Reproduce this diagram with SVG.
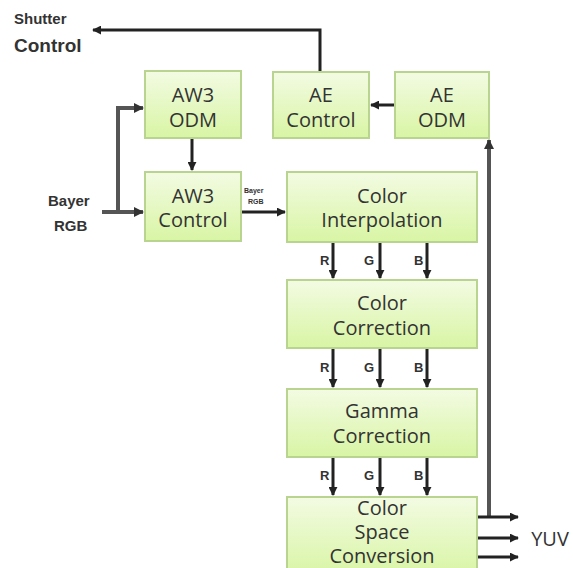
<svg xmlns="http://www.w3.org/2000/svg" width="573" height="568" viewBox="0 0 573 568">
<style>
.box{fill:url(#g);stroke:#b9d48e;stroke-width:2}
.t{font-family:"Open Sans","Liberation Sans",sans-serif;font-size:20px;fill:#333;text-anchor:middle}
.b{font-family:"Liberation Sans",sans-serif;font-weight:bold;fill:#333}
.c{fill:none;stroke:#222;stroke-width:3}
.gr{fill:none;stroke:#555;stroke-width:4}
</style>
<defs>
<linearGradient id="g" x1="0" y1="0" x2="0" y2="1"><stop offset="0" stop-color="#f3fbe3"/><stop offset="1" stop-color="#d8f5a4"/></linearGradient>
<marker id="a" viewBox="0 0 10 10" refX="9" refY="5" markerWidth="3" markerHeight="3" orient="auto"><path d="M0,0L10,5L0,10z" fill="#222"/></marker>
<marker id="a2" viewBox="0 0 10 10" refX="9" refY="5" markerWidth="2.5" markerHeight="2.5" orient="auto"><path d="M0,0L10,5L0,10z" fill="#333"/></marker>
</defs>
<g id="connectors">
<path class="c" d="M320,72V30H93" marker-end="url(#a)"/>
<path class="gr" d="M102,212H143" marker-end="url(#a2)"/>
<path class="gr" d="M118,212V108H143" marker-end="url(#a2)"/>
<path class="c" d="M192,139V170" marker-end="url(#a)"/>
<path class="c" d="M242,212H285" marker-end="url(#a)"/>
<path class="c" d="M394,105H371" marker-end="url(#a)"/>
<path class="gr" d="M489,517V140" marker-end="url(#a2)"/>
<path class="c" d="M333,243V278" marker-end="url(#a)"/>
<path class="c" d="M380,243V278" stroke="#555" marker-end="url(#a)"/>
<path class="c" d="M427,243V278" marker-end="url(#a)"/>
<path class="c" d="M333,349V387" marker-end="url(#a)"/>
<path class="c" d="M380,349V387" stroke="#555" marker-end="url(#a)"/>
<path class="c" d="M427,349V387" marker-end="url(#a)"/>
<path class="c" d="M333,458V495" marker-end="url(#a)"/>
<path class="c" d="M380,458V495" stroke="#555" marker-end="url(#a)"/>
<path class="c" d="M427,458V495" marker-end="url(#a)"/>
<path class="c" d="M478,517H518" marker-end="url(#a)"/>
<path class="c" d="M478,538H518" marker-end="url(#a)"/>
<path class="c" d="M478,557H518" marker-end="url(#a)"/>
</g>
<g id="labels">
<text class="b" x="14" y="24" font-size="15">Shutter</text>
<text class="b" x="14" y="52" font-size="19">Control</text>
<text class="b" x="48" y="206" font-size="15">Bayer</text>
<text class="b" x="54" y="231" font-size="15">RGB</text>
<text class="b" x="244" y="193" font-size="7">Bayer</text>
<text class="b" x="248" y="204" font-size="7">RGB</text>
<text class="b" x="320" y="265" font-size="13">R</text>
<text class="b" x="364" y="265" font-size="13">G</text>
<text class="b" x="414" y="265" font-size="13">B</text>
<text class="b" x="320" y="372" font-size="13">R</text>
<text class="b" x="364" y="372" font-size="13">G</text>
<text class="b" x="414" y="372" font-size="13">B</text>
<text class="b" x="320" y="480" font-size="13">R</text>
<text class="b" x="364" y="480" font-size="13">G</text>
<text class="b" x="414" y="480" font-size="13">B</text>
<text class="t" x="550" y="546" font-size="20">YUV</text>
</g>
<g id="aw3odm"><rect class="box" x="145" y="71" width="96" height="67"/><text class="t" x="193" y="102">AW3</text><text class="t" x="193" y="127">ODM</text></g>
<g id="aecontrol"><rect class="box" x="273" y="72" width="96" height="66"/><text class="t" x="321" y="102">AE</text><text class="t" x="321" y="127">Control</text></g>
<g id="aeodm"><rect class="box" x="395" y="72" width="94" height="66"/><text class="t" x="442" y="102">AE</text><text class="t" x="442" y="127">ODM</text></g>
<g id="aw3control"><rect class="box" x="145" y="172" width="96" height="69"/><text class="t" x="193" y="203">AW3</text><text class="t" x="193" y="227">Control</text></g>
<g id="colorinterp"><rect class="box" x="287" y="172" width="190" height="70"/><text class="t" x="382" y="203">Color</text><text class="t" x="382" y="227">Interpolation</text></g>
<g id="colorcorr"><rect class="box" x="287" y="280" width="190" height="68"/><text class="t" x="382" y="310">Color</text><text class="t" x="382" y="335">Correction</text></g>
<g id="gammacorr"><rect class="box" x="287" y="389" width="190" height="68"/><text class="t" x="382" y="418">Gamma</text><text class="t" x="382" y="443">Correction</text></g>
<g id="csc"><rect class="box" x="287" y="497" width="190" height="80"/><text class="t" x="382" y="515">Color</text><text class="t" x="382" y="539">Space</text><text class="t" x="382" y="563">Conversion</text></g>
</svg>
